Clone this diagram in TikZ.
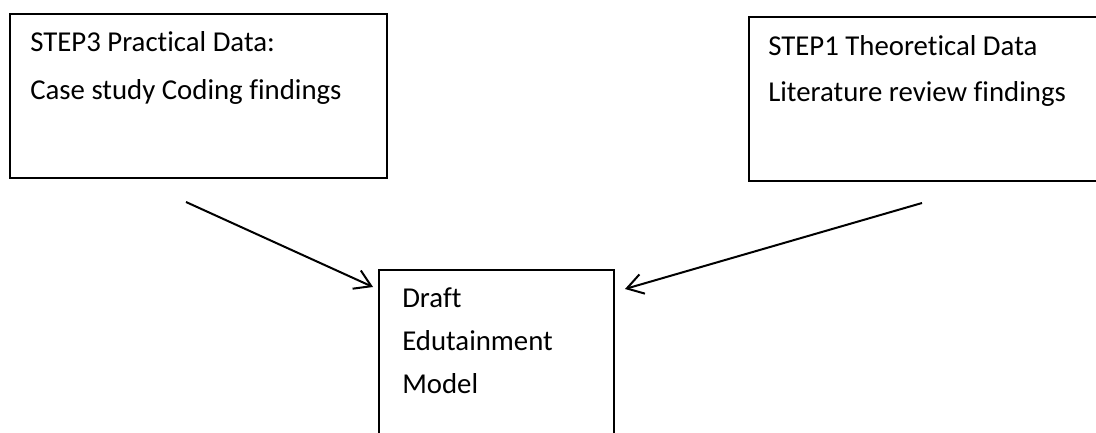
\documentclass[tikz,border=0pt]{standalone}
\usepackage{fontspec}
\setmainfont{Carlito}[Ligatures={NoCommon,NoContextual}]
\usetikzlibrary{arrows.meta}
\begin{document}
\begin{tikzpicture}[x=0.75pt,y=-0.75pt,
  box/.style={draw, line width=1.5pt, inner sep=0pt, anchor=north west},
  txt/.style={anchor=base west, inner sep=0pt, font=\fontsize{21.6}{26}\selectfont},
  conn/.style={line width=1.5pt, -{Straight Barb[length=12pt,width=15pt,line width=1.5pt]}}]
\useasboundingbox (0,0) rectangle (1096,432);

% boxes (the right and the lower box run past the page edge)
\node[box, minimum width=282.75pt, minimum height=123pt] (practical) at (9,13) {};
\node[box, minimum width=271.5pt, minimum height=123pt] (theory) at (748,16) {};
\node[box, minimum width=176.25pt, minimum height=132pt] (draft) at (378,269) {};

% box texts
\node[txt] (p1) at (30,51) {STEP3 Practical Data:};
\node[txt] (p2) at (30,99) {Case study Coding findings};
\node[txt] (t1) at (768,55) {STEP1 Theoretical Data};
\node[txt] (t2) at (768,101) {Literature review findings};
\node[txt] (d1) at (402,307) {Draft};
\node[txt] (d2) at (402,350) {Edutainment};
\node[txt] (d3) at (402,393) {Model};

% connector ends
\coordinate (s1) at (186,202);
\coordinate (e1) at (373,287);
\coordinate (s2) at (922,203);
\coordinate (e2) at (625,289);

\draw[conn] (s1) -- (e1);
\draw[conn] (s2) -- (e2);
\end{tikzpicture}
\end{document}
